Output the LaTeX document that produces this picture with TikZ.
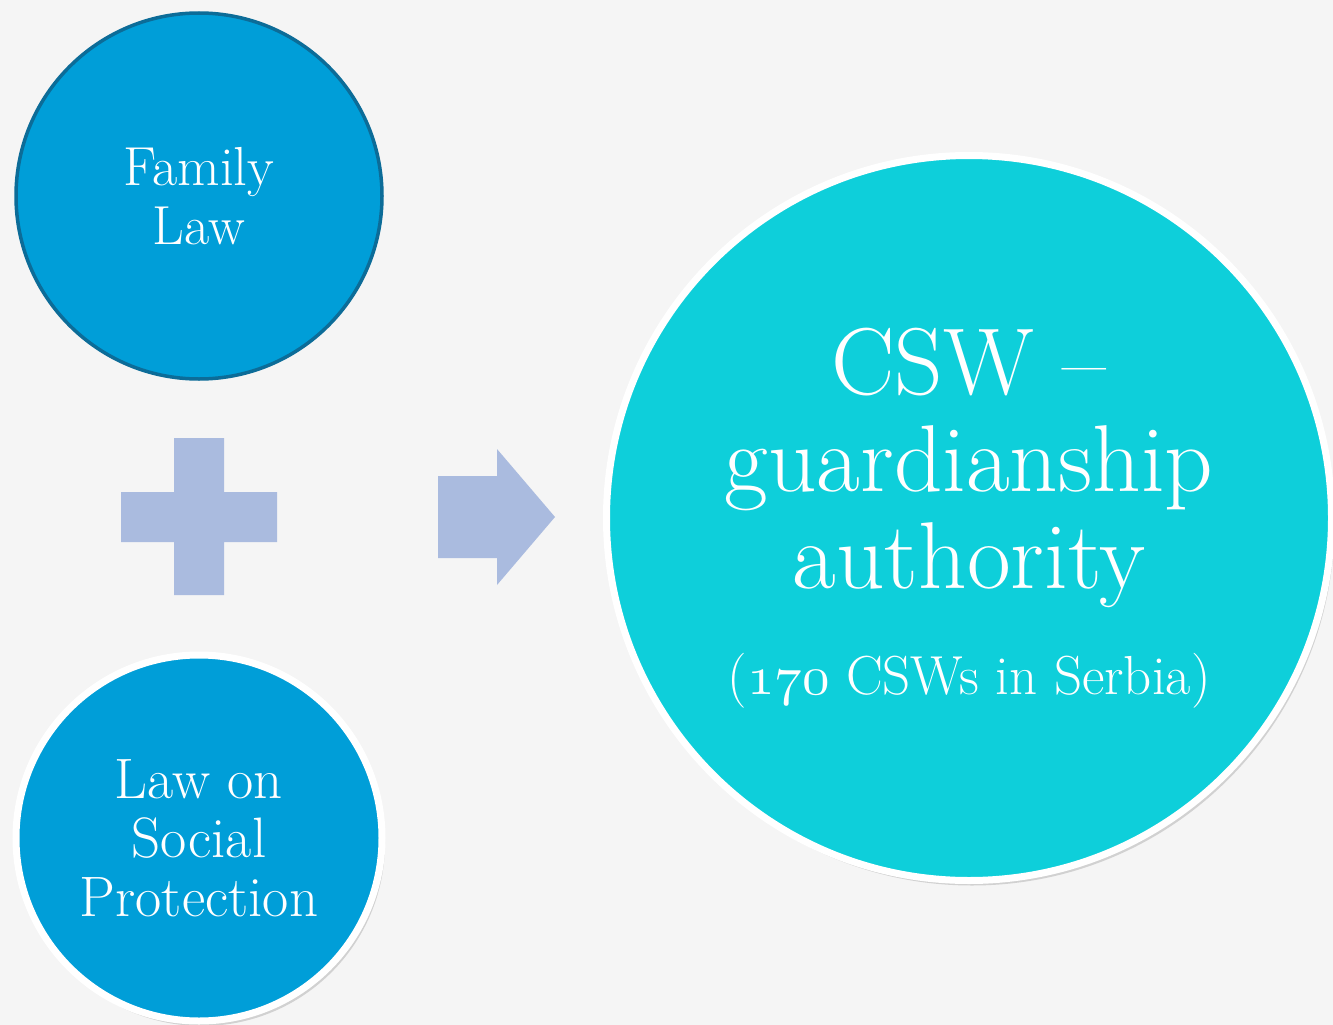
\documentclass[tikz,border=0pt]{standalone}
\usepackage{fontspec}
\usetikzlibrary{shadows}
\definecolor{pagegray}{RGB}{245,245,245}
\definecolor{lawblue}{RGB}{0,158,216}
\definecolor{lawedge}{RGB}{12,108,152}
\definecolor{cswcyan}{RGB}{14,207,218}
\definecolor{signblue}{RGB}{170,187,223}
% old-style figures for the count
\font\oldfigs=cmmi10 at 55pt

\tikzset{
  lawcircle/.style={circle, fill=lawblue, text=white, align=center,
    inner sep=0pt, minimum size=366pt},
  softshadow/.style={drop shadow={shadow xshift=3pt, shadow yshift=-5pt,
    opacity=0.25, fill=black!60}},
  sign/.style={fill=signblue, draw=none}
}

\begin{document}
\begin{tikzpicture}[x=1pt, y=-1pt]
  \fill[pagegray] (0,0) rectangle (1333,1025);
  \clip (0,0) rectangle (1333,1025);

  \node[lawcircle, draw=lawedge, line width=3.5pt,
        font=\fontsize{55}{59}\selectfont] (family) at (199,196)
        {Family\\Law};
  \node[lawcircle, draw=white, line width=7pt, softshadow,
        font=\fontsize{57}{59}\selectfont] (social) at (199,838)
        {Law on\\Social\\Protection};

  % plus sign
  \fill[sign] (174,438) -- (224,438) -- (224,492) -- (277,492) -- (277,542)
        -- (224,542) -- (224,595) -- (174,595) -- (174,542) -- (121,542)
        -- (121,492) -- (174,492) -- cycle;
  % arrow
  \fill[sign] (438,476) -- (497,476) -- (497,449) -- (555,517) -- (497,585)
        -- (497,558) -- (438,558) -- cycle;

  \node[circle, fill=cswcyan, draw=white, line width=7pt, softshadow,
        inner sep=0pt, minimum size=725pt, text=white, align=center,
        font=\fontsize{95}{97}\selectfont]
        (csw) at (969,518)
        {CSW --\\guardianship\\authority\\[9pt]
         {\fontsize{55}{60}\selectfont
          ({\oldfigs 170} CSWs in Serbia)}};
\end{tikzpicture}
\end{document}
